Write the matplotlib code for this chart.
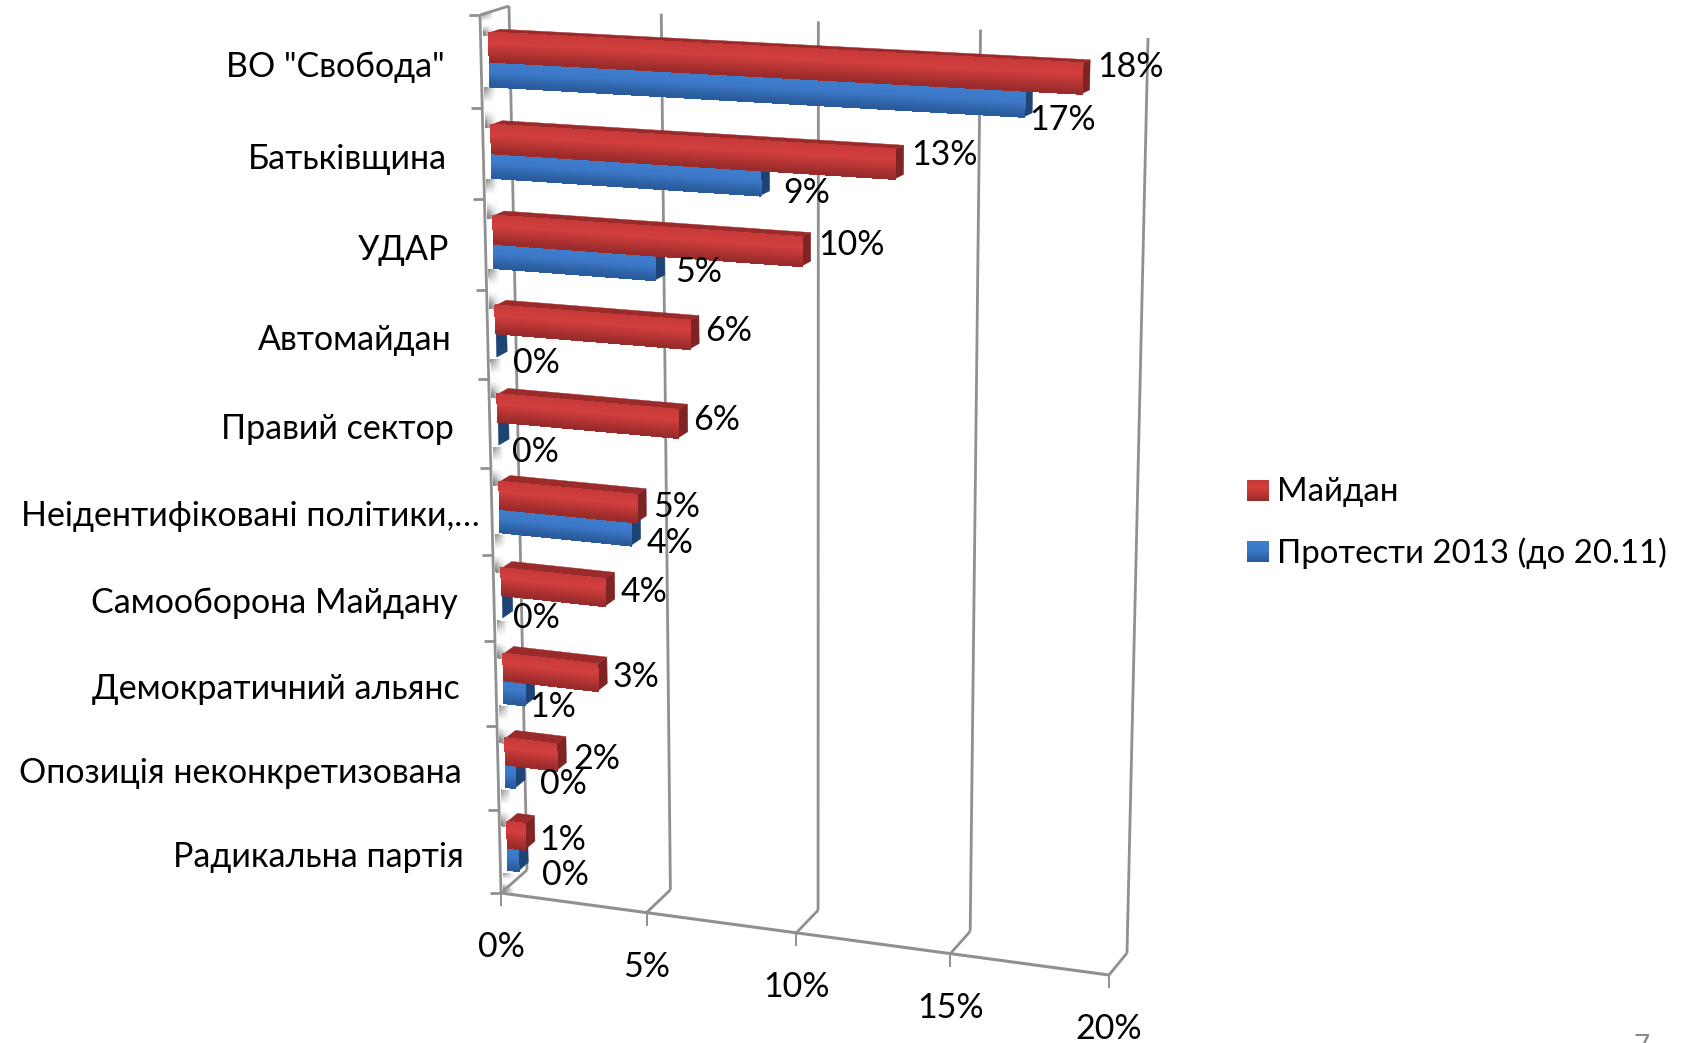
import numpy as np
import matplotlib
matplotlib.use("Agg")
import matplotlib.pyplot as plt
from matplotlib.collections import PolyCollection
from matplotlib.colors import LinearSegmentedColormap, to_rgb

plt.rcParams['font.family'] = ['Lato', 'Noto Sans', 'DejaVu Sans']

categories = ['ВО "Свобода"', 'Батьківщина', 'УДАР', 'Автомайдан', 'Правий сектор',
              'Неідентифіковані політики,…', 'Самооборона Майдану', 'Демократичний альянс',
              'Опозиція неконкретизована', 'Радикальна партія']
maidan = [18.5, 12.9, 10.0, 6.4, 6.0, 4.6, 3.5, 3.2, 1.75, 0.6]
protests = [16.8, 8.7, 5.3, 0.0, 0.0, 4.4, 0.0, 0.7, 0.3, 0.35]
value_ticks = [0, 5, 10, 15, 20]
series_names = ['Майдан', 'Протести 2013 (до 20.11)']

# per label nudges in pixels, Excel places the 3D labels rather irregularly
red_dx = [7, 7, 8, 6, 6, 7, 6, 6, 7, 5]
red_dy = [7, 10, 12, 15, 16, 18, 20, 20, 22, 24]
blue_dx = [-3.5, 13.5, 10.5, 5.5, 2.5, 5.5, 0.5, -5.5, 14.5, 13.5]
blue_dy = [3, -2, -8, 6, 7, -2, 0, 2, -4, 4]
label_pad = [36, 36, 36, 36, 36, 12, 36, 36, 36, 36]

W, H = 1687, 1043
grey = '#909090'
FS = 24.5


def homography(corners):
    """corners for unit square (0,0), (1,0), (0,1), (1,1)"""
    src = [(0, 0), (1, 0), (0, 1), (1, 1)]
    A, b = [], []
    for (u, w), (x, y) in zip(src, corners):
        A.append([u, w, 1, 0, 0, 0, -u*x, -w*x])
        A.append([0, 0, 0, u, w, 1, -u*y, -w*y])
        b += [x, y]
    return np.append(np.linalg.solve(np.array(A, float), np.array(b, float)), 1).reshape(3, 3)


front_h = homography([(501, 893), (1109, 975), (480, 15), (1128, 47)])
back_h = homography([(527, 870), (1127, 953), (509, 6), (1148, 38)])


def project(v, c, d=0.0):
    """value (percent), category position (0 at floor, 10 at top), depth (0 front, 1 back)"""
    p = np.array([v / 20.0, c / 10.0, 1.0])
    f = front_h @ p
    k = back_h @ p
    return (1 - d) * f[:2] / f[2] + d * k[:2] / k[2]


red_cmap = LinearSegmentedColormap.from_list('r', [(0, '#c63a3a'), (0.4, '#d23f3d'), (1, '#9a2b2b')])
blue_cmap = LinearSegmentedColormap.from_list('b', [(0, '#3f7ecd'), (0.45, '#3c7ac9'), (1, '#2a5a9b')])
wall_cmap = LinearSegmentedColormap.from_list('w', [(0, '#8c8c8c'), (0.4, '#ffffff'), (0.6, '#ffffff'), (1, '#808080')])

fig = plt.figure(figsize=(W / 100, H / 100), dpi=100)
ax = fig.add_axes([0, 0, 1, 1])
ax.set_xlim(0, W)
ax.set_ylim(H, 0)
ax.axis('off')


def gradient_face(v0, v1, c0, c1, d, cmap, z, n=40, fade=0.0):
    polys, cols = [], []
    for j in range(n):
        lo = c1 + (c0 - c1) * j / n
        hi = c1 + (c0 - c1) * (j + 1) / n
        polys.append([project(v0, lo, d), project(v1, lo, d), project(v1, hi, d), project(v0, hi, d)])
        rgb = np.array(to_rgb(cmap((j + 0.5) / n)))
        cols.append(tuple(rgb + (1 - rgb) * fade))
    # thick edges so that neighbouring strips leave no seams
    ax.add_collection(PolyCollection(polys, facecolors=cols, edgecolors=cols, linewidths=1.0,
                                     antialiaseds=False, zorder=z))


def line(p, q, lw=2.0, z=2):
    ax.plot([p[0], q[0]], [p[1], q[1]], color=grey, lw=lw, solid_capstyle='butt', zorder=z)


C_LOW, C_MID, C_HIGH = 0.20, 0.47, 0.78
D0, D1 = 0.30, 0.68

# wall shading in the gaps between the bars, grey on the left and fading to the right
for i in range(11):
    top = 10 if i == 0 else 10 - i + C_LOW
    if i == 10:
        top = C_LOW
    bottom = 0 if i == 10 else 9 - i + C_HIGH
    for k in range(7):
        gradient_face(k * 0.06, (k + 1) * 0.06, bottom, top, 0.12, wall_cmap, 1.5, n=20, fade=k / 6.0)

# walls, grid and ticks
for v in value_ticks:
    line(project(v, 0, 1), project(v, 10, 1))
    line(project(v, 0, 0), project(v, 0, 1))
    p = project(v, 0, 0)
    line(p, p + np.array([0, 13]), lw=1.4)
    ax.text(p[0], p[1] + 54, '%d%%' % v, ha='center', va='center', fontsize=FS, color='#000000')
line(project(0, 0, 0), project(20, 0, 0), lw=2.2)
line(project(0, 0, 0), project(0, 10, 0))
line(project(0, 10, 0), project(0, 10, 1))
for c in range(11):
    p = project(0, c, 0)
    line(p - np.array([11, 0]), p)

# bars
for i, name in enumerate(categories):
    c = 9 - i
    pairs = [(protests[i], c + C_LOW, c + C_MID, blue_cmap, '#1d4475', '#2a5a9b'),
             (maidan[i], c + C_MID, c + C_HIGH, red_cmap, '#7f2424', '#9b2a2a')]
    for val, lo, hi, cmap, side, top in pairs:
        ax.fill(*zip(project(val, lo, D0), project(val, hi, D0), project(val, hi, D1), project(val, lo, D1)),
                color=side, lw=0.3, zorder=5)
        ax.fill(*zip(project(0, hi, D0), project(val, hi, D0), project(val, hi, D1), project(0, hi, D1)),
                color=top, lw=0.3, zorder=5)
        if val > 0:
            gradient_face(0, val, lo, hi, D0, cmap, 6)

    p = project(0, c + 0.5, 0)
    ax.text(p[0] - label_pad[i], p[1] + 5, name, ha='right', va='center', fontsize=FS, color='#000000')

    r = project(maidan[i], c + C_HIGH, D1)
    ax.text(r[0] + red_dx[i], r[1] + red_dy[i], '%.0f%%' % maidan[i], ha='left', va='center',
            fontsize=FS, color='#000000', zorder=8)
    b = project(protests[i], c + C_LOW, D1)
    f = project(protests[i], c + C_LOW, D0)
    ax.text(b[0] + blue_dx[i], f[1] + blue_dy[i], '%.0f%%' % protests[i], ha='left', va='center',
            fontsize=FS, color='#000000', zorder=8)

# legend
for name, cmap, y0 in zip(series_names, [red_cmap, blue_cmap], [480, 541]):
    ax.imshow(np.linspace(0, 1, 32).reshape(-1, 1), cmap=cmap, extent=(1247, 1269, y0 + 21, y0),
              aspect='auto', zorder=5)
    ax.text(1277, y0 + 12, name, ha='left', va='center', fontsize=23.8, color='#000000')
ax.set_xlim(0, W)
ax.set_ylim(H, 0)

# slide number, cut off by the lower edge
ax.text(1642, 1034, '7', ha='center', va='top', fontsize=20, color='#8b8b8b')

fig.savefig('out.png', dpi=100)
